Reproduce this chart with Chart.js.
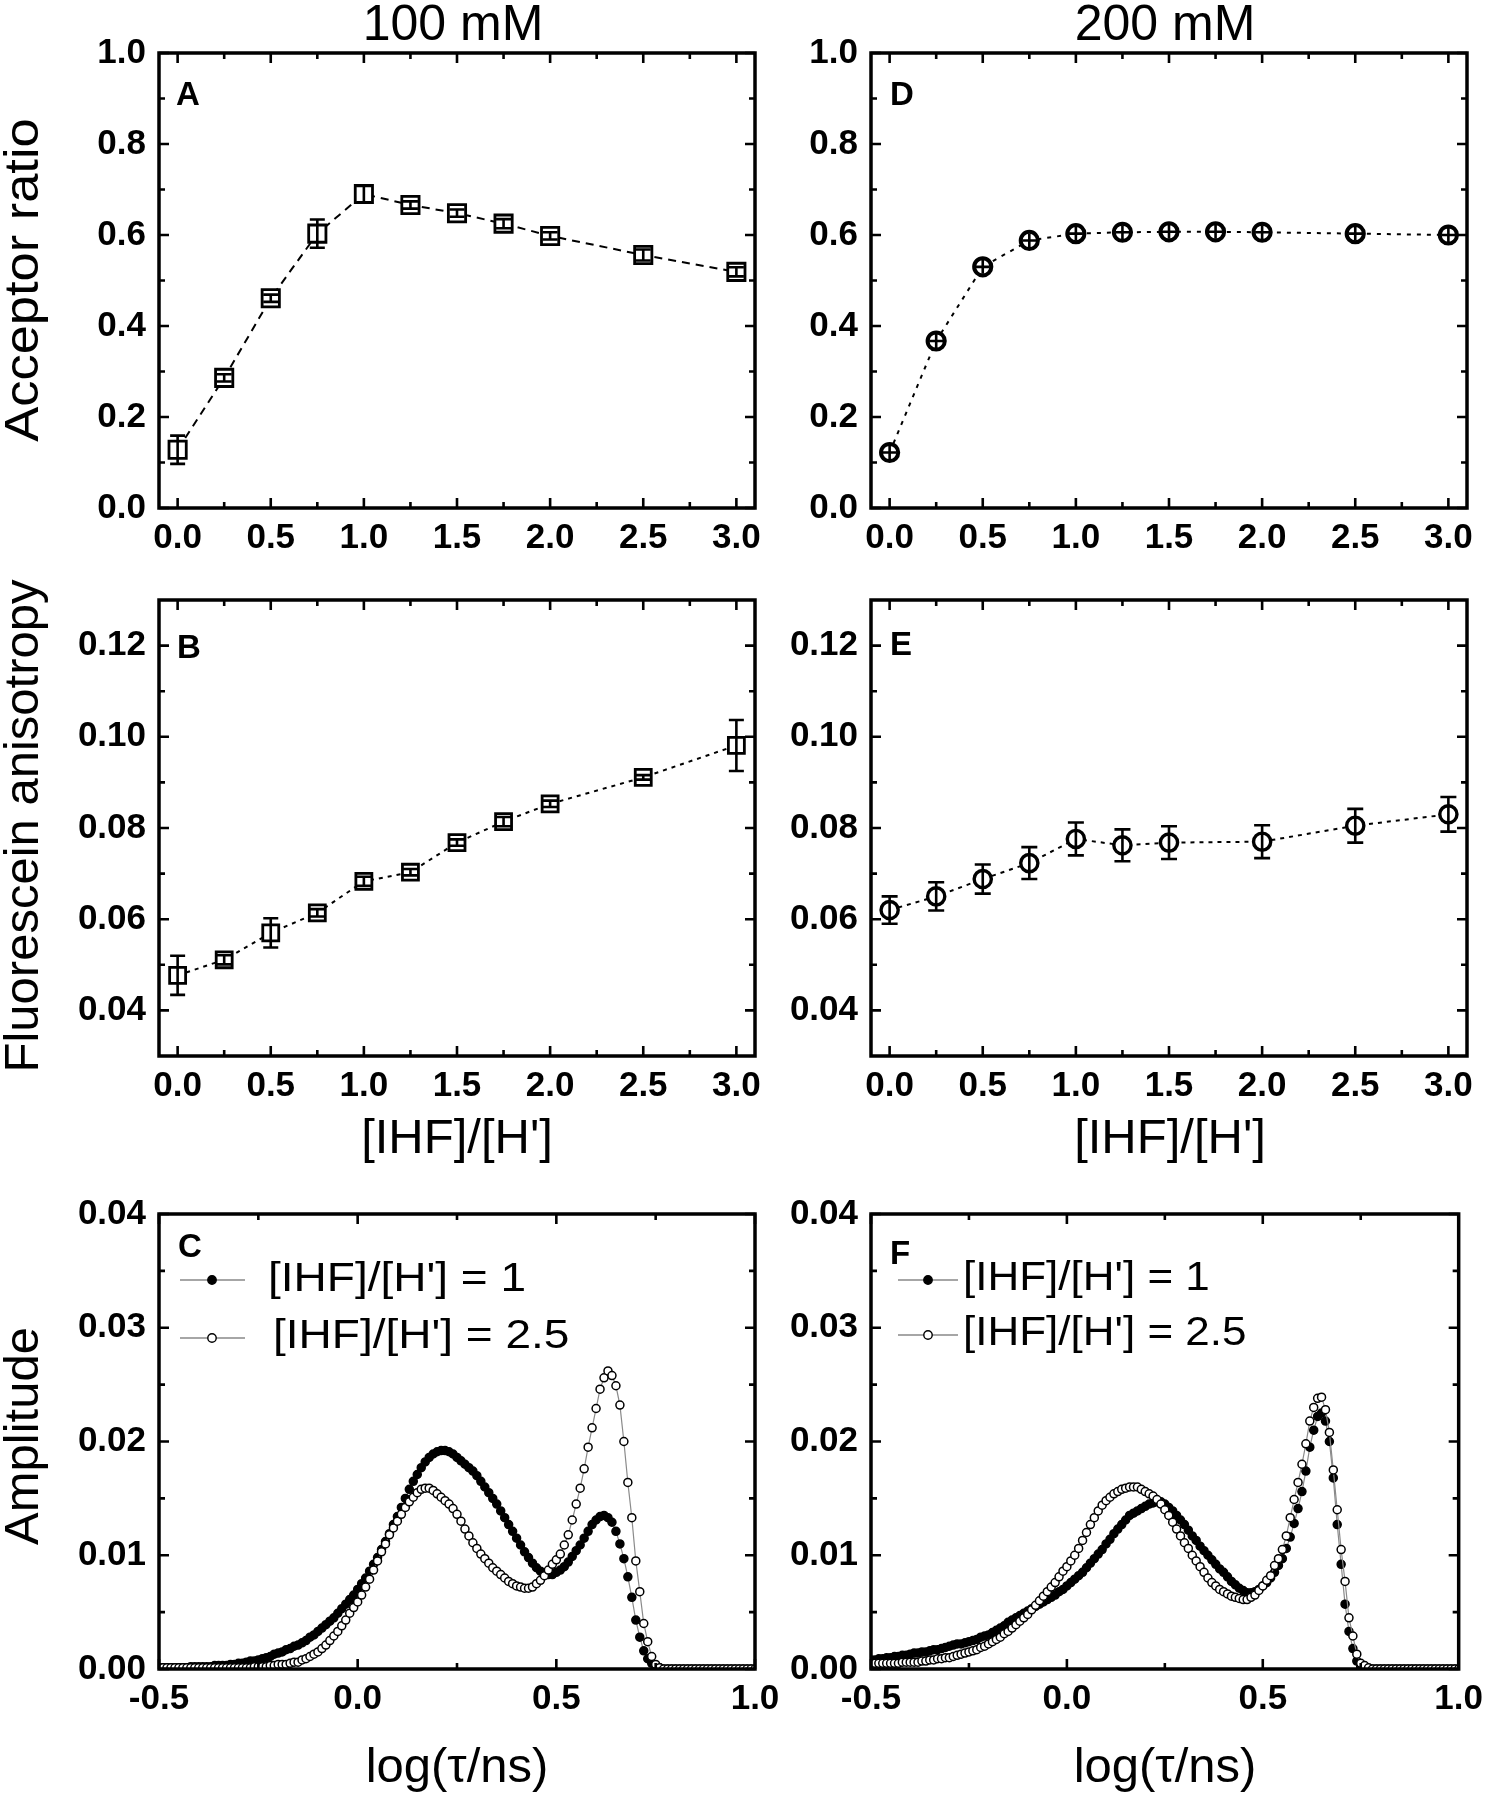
<!DOCTYPE html>
<html><head><meta charset="utf-8">
<script src="https://cdn.jsdelivr.net/npm/chart.js@4.4.0/dist/chart.umd.min.js"></script>
<style>
html,body{margin:0;padding:0;background:#fff;}
body{width:1492px;height:1800px;position:relative;overflow:hidden;}
</style></head><body>
<script>
// ---------------- DATA ----------------
const ratioX = [0, 0.25, 0.5, 0.75, 1.0, 1.25, 1.5, 1.75, 2.0, 2.5, 3.0];
const ratioXE = [0, 0.25, 0.5, 0.75, 1.0, 1.25, 1.5, 2.0, 2.5, 3.0];
const ratioTicks = [0, 0.5, 1.0, 1.5, 2.0, 2.5, 3.0];
const ratioMinor = [0.25, 0.75, 1.25, 1.75, 2.25, 2.75];

const acceptorTicks = [0, 0.2, 0.4, 0.6, 0.8, 1.0];
const acceptorMinor = [0.1, 0.3, 0.5, 0.7, 0.9];
const anisoTicks = [0.04, 0.06, 0.08, 0.10, 0.12];
const anisoMinor = [0.05, 0.07, 0.09, 0.11];
const ampTicks = [0, 0.01, 0.02, 0.03, 0.04];
const ampMinor = [0.005, 0.015, 0.025, 0.035];
const logTauTicks = [-0.5, 0, 0.5, 1.0];
const logTauMinor = [-0.25, 0.25, 0.75];

// A: acceptor ratio, 100 mM
const accRatio100 = [0.128, 0.286, 0.461, 0.603, 0.690, 0.666, 0.648, 0.625, 0.598, 0.556, 0.519];
const accRatio100Err = [0.031, 0.008, 0.008, 0.031, 0.018, 0.008, 0.008, 0.010, 0.008, 0.012, 0.010];
// D: acceptor ratio, 200 mM
const accRatio200 = [0.122, 0.367, 0.530, 0.588, 0.603, 0.606, 0.607, 0.607, 0.606, 0.603, 0.600];
// B: fluorescein anisotropy, 100 mM
const aniso100 = [0.0477, 0.0511, 0.0570, 0.0614, 0.0683, 0.0703, 0.0768, 0.0814, 0.0853, 0.0911, 0.0981];
const aniso100Err = [0.0043, 0.0010, 0.0032, 0.0008, 0.0010, 0.0007, 0.0007, 0.0010, 0.0007, 0.0005, 0.0056];
// E: fluorescein anisotropy, 200 mM
const aniso200 = [0.0620, 0.0650, 0.0688, 0.0723, 0.0776, 0.0762, 0.0768, 0.0770, 0.0805, 0.0830];
const aniso200Err = [0.0030, 0.0031, 0.0032, 0.0035, 0.0036, 0.0035, 0.0036, 0.0036, 0.0037, 0.0038];

// C / F: lifetime distributions
const logTau = [
 -0.50,-0.49,-0.48,-0.47,-0.46,-0.45,-0.44,-0.43,-0.42,-0.41,
 -0.40,-0.39,-0.38,-0.37,-0.36,-0.35,-0.34,-0.33,-0.32,-0.31,
 -0.30,-0.29,-0.28,-0.27,-0.26,-0.25,-0.24,-0.23,-0.22,-0.21,
 -0.20,-0.19,-0.18,-0.17,-0.16,-0.15,-0.14,-0.13,-0.12,-0.11,
 -0.10,-0.09,-0.08,-0.07,-0.06,-0.05,-0.04,-0.03,-0.02,-0.01,
 0.00,0.01,0.02,0.03,0.04,0.05,0.06,0.07,0.08,0.09,
 0.10,0.11,0.12,0.13,0.14,0.15,0.16,0.17,0.18,0.19,
 0.20,0.21,0.22,0.23,0.24,0.25,0.26,0.27,0.28,0.29,
 0.30,0.31,0.32,0.33,0.34,0.35,0.36,0.37,0.38,0.39,
 0.40,0.41,0.42,0.43,0.44,0.45,0.46,0.47,0.48,0.49,
 0.50,0.51,0.52,0.53,0.54,0.55,0.56,0.57,0.58,0.59,
 0.60,0.61,0.62,0.63,0.64,0.65,0.66,0.67,0.68,0.69,
 0.70,0.71,0.72,0.73,0.74,0.75,0.76,0.77,0.78,0.79,
 0.80,0.81,0.82,0.83,0.84,0.85,0.86,0.87,0.88,0.89,
 0.90,0.91,0.92,0.93,0.94,0.95,0.96,0.97,0.98,0.99,
 1.00];
const amp100r1 = [
 0.0001,0.0001,0.0001,0.0001,0.0001,0.0001,0.0001,0.0001,0.0002,0.0002,
 0.0002,0.0002,0.0002,0.0002,0.0003,0.0003,0.0003,0.0003,0.0004,0.0004,
 0.0005,0.0005,0.0006,0.0007,0.0007,0.0008,0.0009,0.0010,0.0011,0.0013,
 0.0014,0.0015,0.0017,0.0018,0.0020,0.0021,0.0023,0.0025,0.0028,0.0030,
 0.0033,0.0036,0.0039,0.0042,0.0045,0.0049,0.0053,0.0057,0.0061,0.0065,
 0.0070,0.0075,0.0080,0.0086,0.0092,0.0098,0.0105,0.0112,0.0119,0.0127,
 0.0134,0.0142,0.0150,0.0158,0.0165,0.0171,0.0177,0.0182,0.0186,0.0189,
 0.0191,0.0192,0.0192,0.0191,0.0189,0.0186,0.0183,0.0180,0.0177,0.0174,
 0.0170,0.0165,0.0160,0.0155,0.0150,0.0145,0.0139,0.0133,0.0127,0.0121,
 0.0115,0.0109,0.0103,0.0098,0.0093,0.0089,0.0086,0.0084,0.0083,0.0083,
 0.0085,0.0087,0.0090,0.0094,0.0099,0.0104,0.0109,0.0115,0.0121,0.0127,
 0.0131,0.0134,0.0135,0.0133,0.0129,0.0121,0.0110,0.0097,0.0081,0.0063,
 0.0043,0.0028,0.0016,0.0009,0.0005,0.0002,0.0001,0,0,0,
 0,0,0,0,0,0,0,0,0,0,
 0,0,0,0,0,0,0,0,0,0,
 0];
const amp100r25 = [
 0.0001,0.0001,0.0001,0.0001,0.0001,0.0001,0.0001,0.0001,0.0001,0.0001,
 0.0001,0.0001,0.0001,0.0001,0.0001,0.0001,0.0001,0.0001,0.0001,0.0001,
 0.0001,0.0001,0.0001,0.0001,0.0002,0.0002,0.0002,0.0002,0.0003,0.0003,
 0.0004,0.0004,0.0004,0.0005,0.0006,0.0006,0.0008,0.0009,0.0011,0.0013,
 0.0015,0.0018,0.0021,0.0025,0.0029,0.0033,0.0038,0.0043,0.0049,0.0054,
 0.0059,0.0065,0.0072,0.0079,0.0087,0.0095,0.0103,0.0110,0.0118,0.0124,
 0.0130,0.0136,0.0142,0.0147,0.0151,0.0155,0.0158,0.0159,0.0159,0.0157,
 0.0154,0.0151,0.0148,0.0145,0.0141,0.0136,0.0130,0.0123,0.0117,0.0111,
 0.0106,0.0101,0.0097,0.0093,0.0089,0.0086,0.0083,0.0080,0.0077,0.0075,
 0.0073,0.0072,0.0071,0.0071,0.0072,0.0075,0.0078,0.0082,0.0087,0.0092,
 0.0096,0.0101,0.0109,0.0118,0.0131,0.0145,0.0159,0.0176,0.0195,0.0212,
 0.0229,0.0246,0.0256,0.0262,0.0258,0.0249,0.0232,0.0200,0.0164,0.0133,
 0.0095,0.0068,0.0040,0.0024,0.0011,0.0004,0.0001,0,0,0,
 0,0,0,0,0,0,0,0,0,0,
 0,0,0,0,0,0,0,0,0,0,
 0];
const amp200r1 = [
 0.0008,0.0008,0.0009,0.0009,0.0010,0.0010,0.0011,0.0011,0.0012,0.0012,
 0.0013,0.0014,0.0014,0.0015,0.0015,0.0016,0.0017,0.0017,0.0018,0.0019,
 0.0020,0.0021,0.0022,0.0022,0.0023,0.0024,0.0025,0.0026,0.0028,0.0029,
 0.0030,0.0032,0.0034,0.0036,0.0038,0.0041,0.0043,0.0045,0.0047,0.0049,
 0.0051,0.0053,0.0055,0.0057,0.0059,0.0061,0.0063,0.0065,0.0068,0.0070,
 0.0073,0.0076,0.0079,0.0082,0.0085,0.0089,0.0093,0.0097,0.0101,0.0105,
 0.0110,0.0114,0.0119,0.0123,0.0127,0.0131,0.0135,0.0137,0.0139,0.0141,
 0.0143,0.0145,0.0146,0.0147,0.0147,0.0145,0.0142,0.0139,0.0135,0.0131,
 0.0127,0.0122,0.0117,0.0113,0.0108,0.0104,0.0100,0.0096,0.0092,0.0088,
 0.0085,0.0081,0.0077,0.0074,0.0071,0.0069,0.0067,0.0067,0.0068,0.0070,
 0.0073,0.0076,0.0080,0.0085,0.0091,0.0097,0.0106,0.0116,0.0128,0.0141,
 0.0156,0.0174,0.0195,0.0210,0.0222,0.0225,0.0218,0.0200,0.0168,0.0127,
 0.0092,0.0057,0.0033,0.0018,0.0007,0.0002,0.0001,0,0,0,
 0,0,0,0,0,0,0,0,0,0,
 0,0,0,0,0,0,0,0,0,0,
 0];
const amp200r25 = [
 0.0005,0.0005,0.0005,0.0005,0.0005,0.0005,0.0005,0.0005,0.0006,0.0006,
 0.0006,0.0006,0.0006,0.0007,0.0007,0.0008,0.0008,0.0009,0.0009,0.0010,
 0.0010,0.0011,0.0012,0.0013,0.0014,0.0015,0.0016,0.0017,0.0019,0.0020,
 0.0022,0.0024,0.0026,0.0028,0.0031,0.0033,0.0036,0.0039,0.0042,0.0045,
 0.0048,0.0052,0.0056,0.0060,0.0064,0.0068,0.0072,0.0076,0.0081,0.0086,
 0.0090,0.0095,0.0100,0.0106,0.0113,0.0120,0.0127,0.0133,0.0139,0.0144,
 0.0148,0.0151,0.0154,0.0156,0.0158,0.0159,0.0160,0.0160,0.0160,0.0158,
 0.0156,0.0154,0.0152,0.0149,0.0145,0.0140,0.0135,0.0129,0.0123,0.0117,
 0.0111,0.0106,0.0100,0.0095,0.0090,0.0085,0.0080,0.0076,0.0073,0.0070,
 0.0068,0.0066,0.0064,0.0063,0.0062,0.0061,0.0061,0.0063,0.0065,0.0069,
 0.0073,0.0078,0.0082,0.0091,0.0097,0.0105,0.0117,0.0133,0.0149,0.0164,
 0.0180,0.0198,0.0218,0.0230,0.0238,0.0239,0.0228,0.0208,0.0175,0.0140,
 0.0105,0.0077,0.0045,0.0029,0.0013,0.0005,0.0003,0.0001,0,0,
 0,0,0,0,0,0,0,0,0,0,
 0,0,0,0,0,0,0,0,0,0,
 0];

// ---------------- RENDERING ----------------
const FAM = '"Liberation Sans", Arial, Helvetica, sans-serif';
const TICKFONT = { family: FAM, size: 35, weight: 'bold' };
Chart.defaults.font.family = FAM;

function pts(xs, ys) { return xs.map((x, i) => ({ x: x, y: ys[i] })); }

function panel(id, box, area, spec) {
  const cv = document.createElement('canvas');
  cv.id = id; cv.width = box.w; cv.height = box.h;
  cv.style.cssText = 'position:absolute;left:' + box.x + 'px;top:' + box.y + 'px;width:' + box.w + 'px;height:' + box.h + 'px';
  document.body.appendChild(cv);

  const decor = {
    id: 'decor_' + id,
    afterDatasetsDraw(chart) {
      const ctx = chart.ctx, a = chart.chartArea, xs = chart.scales.x, ys = chart.scales.y;
      ctx.save();
      // error bars
      (spec.errors || []).forEach(eb => {
        const meta = chart.getDatasetMeta(eb.ds);
        const d = chart.data.datasets[eb.ds].data;
        ctx.strokeStyle = '#000'; ctx.lineWidth = 2.6; ctx.lineCap = 'butt';
        ctx.beginPath();
        meta.data.forEach((p, i) => {
          const v = d[i].y, e = eb.err[i];
          const y1 = ys.getPixelForValue(v + e), y2 = ys.getPixelForValue(v - e);
          ctx.moveTo(p.x, y1); ctx.lineTo(p.x, y2);
          ctx.moveTo(p.x - eb.cap, y1); ctx.lineTo(p.x + eb.cap, y1);
          ctx.moveTo(p.x - eb.cap, y2); ctx.lineTo(p.x + eb.cap, y2);
        });
        ctx.stroke();
      });
      // ticks on all four sides, pointing in
      ctx.strokeStyle = '#000'; ctx.lineWidth = 2.6;
      ctx.beginPath();
      const tx = (vals, len) => vals.forEach(v => {
        const px = xs.getPixelForValue(v);
        ctx.moveTo(px, a.bottom); ctx.lineTo(px, a.bottom - len);
        ctx.moveTo(px, a.top); ctx.lineTo(px, a.top + len);
      });
      const ty = (vals, len) => vals.forEach(v => {
        const py = ys.getPixelForValue(v);
        ctx.moveTo(a.left, py); ctx.lineTo(a.left + len, py);
        ctx.moveTo(a.right, py); ctx.lineTo(a.right - len, py);
      });
      tx(spec.xTicks, 10); tx(spec.xMinor, 6); ty(spec.yTicks, 10); ty(spec.yMinor, 6);
      ctx.stroke();
      ctx.lineWidth = 3.5;
      ctx.strokeRect(a.left, a.top, a.right - a.left, a.bottom - a.top);
      // legend samples
      (spec.legend || []).forEach(l => {
        ctx.strokeStyle = '#888'; ctx.lineWidth = 1.6;
        ctx.beginPath(); ctx.moveTo(l.x1 - box.x, l.y - box.y); ctx.lineTo(l.x2 - box.x, l.y - box.y); ctx.stroke();
        ctx.beginPath(); ctx.arc(l.mx - box.x, l.y - box.y, 4.2, 0, Math.PI * 2);
        ctx.fillStyle = l.fill; ctx.fill();
        ctx.strokeStyle = '#000'; ctx.lineWidth = 1.4; ctx.stroke();
      });
      // texts
      ctx.fillStyle = '#000';
      (spec.texts || []).forEach(t => {
        ctx.save();
        ctx.translate(t.x - box.x, t.y - box.y);
        if (t.rot) ctx.rotate(t.rot);
        ctx.scale(t.sx || 1, 1);
        ctx.font = (t.w || 'normal') + ' ' + t.size + 'px ' + FAM;
        ctx.textAlign = t.align || 'left';
        ctx.textBaseline = 'alphabetic';
        ctx.fillText(t.t, 0, 0);
        ctx.restore();
      });
      ctx.restore();
    }
  };

  return new Chart(cv.getContext('2d'), {
    type: 'scatter',
    data: { datasets: spec.datasets },
    options: {
      responsive: false, maintainAspectRatio: false, animation: false, devicePixelRatio: 1,
      events: [],
      layout: { padding: { left: 0, bottom: 0, top: area.t - box.y, right: box.x + box.w - area.r } },
      plugins: { legend: { display: false }, tooltip: { enabled: false }, title: { display: false } },
      scales: {
        x: {
          type: 'linear', position: 'bottom', min: spec.xMin, max: spec.xMax,
          afterBuildTicks: s => { s.ticks = spec.xTicks.map(v => ({ value: v })); },
          afterFit: s => { s.height = box.y + box.h - area.b; },
          grid: { display: false, drawTicks: false }, border: { display: false },
          ticks: { padding: 9, color: '#000', font: TICKFONT, maxRotation: 0, minRotation: 0, autoSkip: false,
                   callback: v => Number(v).toFixed(spec.xDec) }
        },
        y: {
          type: 'linear', position: 'left', min: spec.yMin, max: spec.yMax,
          afterBuildTicks: s => { s.ticks = spec.yTicks.map(v => ({ value: v })); },
          afterFit: s => { s.width = area.l - box.x; },
          grid: { display: false, drawTicks: false }, border: { display: false },
          ticks: { padding: 13, color: '#000', font: TICKFONT, autoSkip: false,
                   callback: v => Number(v).toFixed(spec.yDec) }
        }
      }
    },
    plugins: [decor]
  });
}

const TITLE = 49;
function yTitle(t, cy, sx) { return { t: t, x: 38, y: cy, size: TITLE, rot: -Math.PI / 2, align: 'center', sx: sx || 1 }; }
function letter(t, x, y) { return { t: t, x: x, y: y, size: 33, w: 'bold' }; }

function dashedSeries(data, style, radius, bw, dash) {
  return { data: data, showLine: true, borderColor: '#000', borderWidth: 2, borderDash: dash,
           pointStyle: style, pointRadius: radius, pointBorderWidth: bw,
           pointBackgroundColor: '#fff', pointBorderColor: '#000', order: 1 };
}
function curve(ys, filled, order) {
  return { data: pts(logTau, ys), showLine: true, borderColor: '#8a8a8a', borderWidth: 1.2,
           pointStyle: 'circle', pointRadius: 4, pointBorderWidth: 1.5,
           pointBackgroundColor: filled ? '#000' : '#fff', pointBorderColor: '#000', order: order };
}

// Panel A
panel('cA', { x: 0, y: 0, w: 790, h: 565 }, { l: 159, t: 53, r: 755, b: 508 }, {
  xMin: -0.1, xMax: 3.1, xTicks: ratioTicks, xMinor: ratioMinor, xDec: 1,
  yMin: 0, yMax: 1.0, yTicks: acceptorTicks, yMinor: acceptorMinor, yDec: 1,
  datasets: [dashedSeries(pts(ratioX, accRatio100), 'rect', 12.2, 2.8, [8, 6])],
  errors: [{ ds: 0, err: accRatio100Err, cap: 7.5 }],
  texts: [
    { t: '100 mM', x: 453, y: 40, size: 50, align: 'center' },
    yTitle('Acceptor ratio', 280, 1.07),
    letter('A', 176, 105)
  ]
});

// Panel D
panel('cD', { x: 780, y: 0, w: 712, h: 565 }, { l: 871, t: 53, r: 1467, b: 508 }, {
  xMin: -0.1, xMax: 3.1, xTicks: ratioTicks, xMinor: ratioMinor, xDec: 1,
  yMin: 0, yMax: 1.0, yTicks: acceptorTicks, yMinor: acceptorMinor, yDec: 1,
  datasets: [
    dashedSeries(pts(ratioX, accRatio200), 'circle', 8.6, 4, [4, 6]),
    { data: pts(ratioX, accRatio200), showLine: false, pointStyle: 'cross', pointRadius: 7,
      pointBorderWidth: 2.6, pointBorderColor: '#000', order: 0 }
  ],
  texts: [
    { t: '200 mM', x: 1165, y: 40, size: 50, align: 'center' },
    letter('D', 890, 105)
  ]
});

// Panel B
panel('cB', { x: 0, y: 565, w: 790, h: 615 }, { l: 159, t: 600, r: 755, b: 1056 }, {
  xMin: -0.1, xMax: 3.1, xTicks: ratioTicks, xMinor: ratioMinor, xDec: 1,
  yMin: 0.03, yMax: 0.13, yTicks: anisoTicks, yMinor: anisoMinor, yDec: 2,
  datasets: [dashedSeries(pts(ratioX, aniso100), 'rect', 11.3, 2.8, [4, 5])],
  errors: [{ ds: 0, err: aniso100Err, cap: 7.5 }],
  texts: [
    yTitle('Fluorescein anisotropy', 826),
    { t: "[IHF]/[H']", x: 457, y: 1153, size: TITLE, align: 'center' },
    letter('B', 177, 658)
  ]
});

// Panel E
panel('cE', { x: 780, y: 565, w: 712, h: 615 }, { l: 871, t: 600, r: 1467, b: 1056 }, {
  xMin: -0.1, xMax: 3.1, xTicks: ratioTicks, xMinor: ratioMinor, xDec: 1,
  yMin: 0.03, yMax: 0.13, yTicks: anisoTicks, yMinor: anisoMinor, yDec: 2,
  datasets: [dashedSeries(pts(ratioXE, aniso200), 'circle', 8.6, 3.4, [4, 5])],
  errors: [{ ds: 0, err: aniso200Err, cap: 8 }],
  texts: [
    { t: "[IHF]/[H']", x: 1170, y: 1153, size: TITLE, align: 'center' },
    letter('E', 890, 655)
  ]
});

// Panel C
panel('cC', { x: 0, y: 1180, w: 790, h: 620 }, { l: 159, t: 1213, r: 755, b: 1669 }, {
  xMin: -0.5, xMax: 1.0, xTicks: logTauTicks, xMinor: logTauMinor, xDec: 1,
  yMin: 0, yMax: 0.04, yTicks: ampTicks, yMinor: ampMinor, yDec: 2,
  datasets: [curve(amp100r25, false, 0), curve(amp100r1, true, 1)],
  legend: [
    { x1: 180, x2: 245, mx: 212, y: 1280, fill: '#000' },
    { x1: 180, x2: 245, mx: 212, y: 1338, fill: '#fff' }
  ],
  texts: [
    yTitle('Amplitude', 1436),
    { t: 'log(\u03C4/ns)', x: 457, y: 1782, size: TITLE, align: 'center' },
    letter('C', 178, 1257),
    { t: "[IHF]/[H'] = 1", x: 268, y: 1291, size: 40, sx: 1.15 },
    { t: "[IHF]/[H'] = 2.5", x: 273, y: 1348, size: 40, sx: 1.15 }
  ]
});

// Panel F
panel('cF', { x: 780, y: 1180, w: 712, h: 620 }, { l: 871, t: 1213, r: 1467, b: 1669 }, {
  xMin: -0.5, xMax: 1.0, xTicks: logTauTicks, xMinor: logTauMinor, xDec: 1,
  yMin: 0, yMax: 0.04, yTicks: ampTicks, yMinor: ampMinor, yDec: 2,
  datasets: [curve(amp200r25, false, 0), curve(amp200r1, true, 1)],
  legend: [
    { x1: 898, x2: 958, mx: 928, y: 1280, fill: '#000' },
    { x1: 898, x2: 958, mx: 928, y: 1335, fill: '#fff' }
  ],
  texts: [
    { t: 'log(\u03C4/ns)', x: 1165, y: 1782, size: TITLE, align: 'center' },
    letter('F', 890, 1264),
    { t: "[IHF]/[H'] = 1", x: 963, y: 1290, size: 40, sx: 1.1 },
    { t: "[IHF]/[H'] = 2.5", x: 963, y: 1345, size: 40, sx: 1.1 }
  ]
});
</script>
</body></html>
